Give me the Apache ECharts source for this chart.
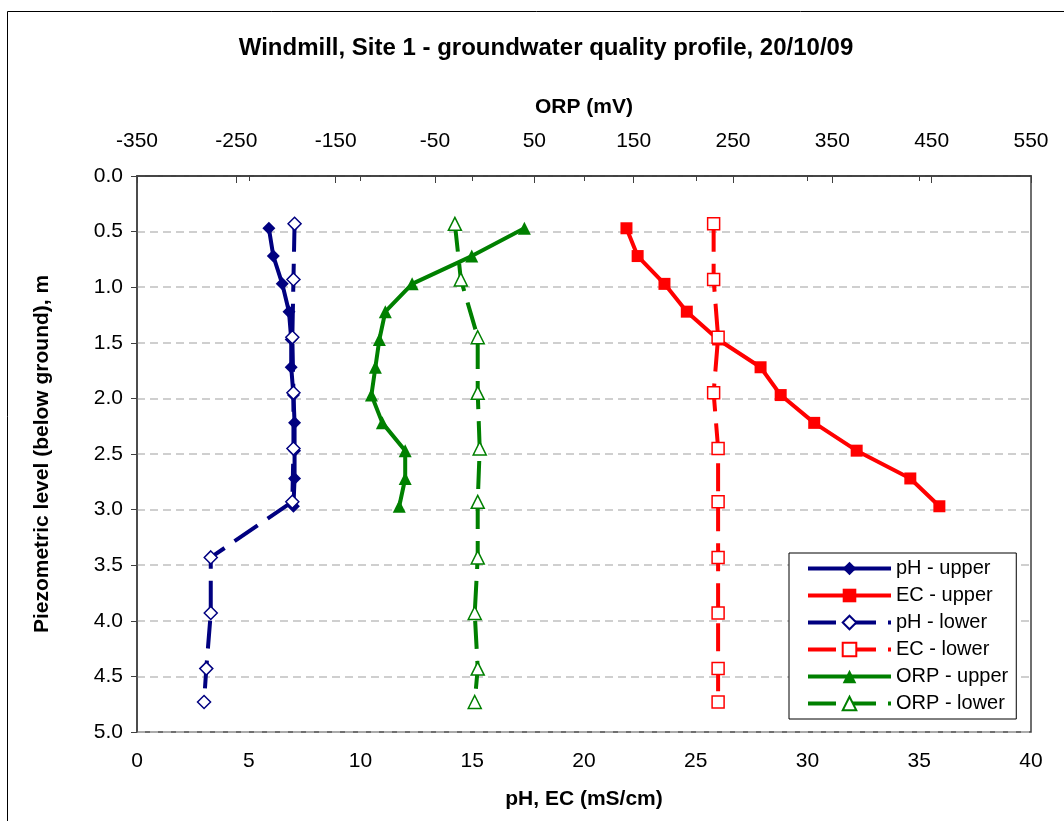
<!DOCTYPE html>
<html>
<head>
<meta charset="utf-8">
<script src="https://cdn.jsdelivr.net/npm/echarts@6/dist/echarts.min.js"></script>
<style>
  html, body { margin: 0; padding: 0; background: #fff; }
  #chart { width: 1064px; height: 821px; }
</style>
</head>
<body>
<div id="chart"></div>
<script>
// depths (m below ground) of the upper and lower profile readings
const upperDepth = [0.47, 0.72, 0.97, 1.22, 1.47, 1.72, 1.97, 2.22, 2.47, 2.72, 2.97]
const lowerDepth = [0.43, 0.93, 1.45, 1.95, 2.45, 2.93, 3.43, 3.93, 4.43, 4.73]

const phUpper = [5.9, 6.1, 6.5, 6.8, 6.9, 6.9, 7.0, 7.05, 7.05, 7.05, 7.0]
const phLower = [7.05, 7.0, 6.95, 7.0, 7.0, 6.95, 3.3, 3.3, 3.1, 3.0]
const ecUpper = [21.9, 22.4, 23.6, 24.6, 26.0, 27.9, 28.8, 30.3, 32.2, 34.6, 35.9]
const ecLower = [25.8, 25.8, 26.0, 25.8, 26.0, 26.0, 26.0, 26.0, 26.0, 26.0]
const orpUpper = [40, -13, -73, -100, -106, -110, -114, -103, -80, -80, -86]
const orpLower = [-30, -24, -7, -7, -5, -7, -7, -10, -7, -10]

const orpTicks = [-350, -250, -150, -50, 50, 150, 250, 350, 450, 550]

const FONT = 'Liberation Sans, Arial, sans-serif'
const NAVY = '#000080'
const RED = '#ff0000'
const GREEN = '#008000'

function pairs(xs, ys) {
  return xs.map((x, i) => [x, ys[i]])
}

function line(name, color, values, depths, symbol, hollow, dashed, axis) {
  return {
    name: name,
    type: 'line',
    xAxisIndex: axis,
    yAxisIndex: 0,
    data: pairs(values, depths),
    symbol: symbol,
    symbolSize: symbol === 'rect' ? 12 : 13,
    showSymbol: true,
    lineStyle: { color: color, width: 4, type: dashed ? [28, 12] : 'solid' },
    itemStyle: {
      color: hollow ? '#fff' : color,
      borderColor: color,
      borderWidth: hollow ? 1.5 : 0
    },
    emphasis: { disabled: true },
    animation: false
  }
}

const chart = echarts.init(document.getElementById('chart'))

const option = {
  backgroundColor: '#fff',
  textStyle: { fontFamily: FONT },
  title: {
    text: 'Windmill, Site 1 - groundwater quality profile, 20/10/09',
    left: 541,
    top: 31,
    textAlign: 'center',
    textStyle: { fontFamily: FONT, fontSize: 24, fontWeight: 'bold', color: '#000' }
  },
  graphic: [{
    type: 'rect',
    shape: { x: 7.5, y: 11.5, width: 1100, height: 900 },
    style: { fill: 'none', stroke: '#000', lineWidth: 1 },
    silent: true
  }],
  legend: {
    orient: 'vertical',
    left: 789,
    top: 553,
    padding: [5, 8, 5, 17],
    itemWidth: 83,
    itemHeight: 17,
    itemGap: 6,
    backgroundColor: '#fff',
    borderColor: '#000',
    borderWidth: 1,
    lineStyle: { width: 4 },
    textStyle: { fontFamily: FONT, fontSize: 20, color: '#000', lineHeight: 21 },
    data: ['pH - upper', 'EC - upper', 'pH - lower', 'EC - lower', 'ORP - upper', 'ORP - lower']
  },
  grid: {
    left: 137,
    top: 176,
    width: 894,
    height: 556,
    show: true,
    borderColor: '#404040',
    borderWidth: 1.5,
    containLabel: false
  },
  xAxis: [{
    type: 'value',
    position: 'bottom',
    min: 0,
    max: 40,
    interval: 5,
    name: 'pH, EC (mS/cm)',
    nameLocation: 'middle',
    nameGap: 57,
    nameTextStyle: { fontFamily: FONT, fontSize: 21, fontWeight: 'bold', color: '#000' },
    axisLine: { show: true, lineStyle: { color: '#404040', width: 1.5 } },
    axisTick: { show: true, inside: false, length: 5, lineStyle: { color: '#404040' } },
    axisLabel: { fontFamily: FONT, fontSize: 21, color: '#000', margin: 19 },
    splitLine: { show: false }
  }, {
    type: 'value',
    position: 'top',
    min: -350,
    max: 550,
    name: 'ORP (mV)',
    nameLocation: 'middle',
    nameGap: 58,
    nameTextStyle: { fontFamily: FONT, fontSize: 21, fontWeight: 'bold', color: '#000' },
    axisLine: { show: true, lineStyle: { color: '#404040', width: 1.5 } },
    axisTick: { show: true, inside: true, length: 7, customValues: orpTicks, lineStyle: { color: '#404040' } },
    axisLabel: { fontFamily: FONT, fontSize: 21, color: '#000', margin: 24, customValues: orpTicks },
    splitLine: { show: false }
  }],
  yAxis: {
    type: 'value',
    inverse: true,
    min: 0,
    max: 5,
    interval: 0.5,
    name: 'Piezometric level (below ground), m',
    nameLocation: 'middle',
    nameGap: 84,
    nameTextStyle: { fontFamily: FONT, fontSize: 21, fontWeight: 'bold', color: '#000' },
    axisLine: { show: true, lineStyle: { color: '#404040', width: 1.5 } },
    axisTick: { show: true, inside: false, length: 6, lineStyle: { color: '#404040' } },
    axisLabel: { fontFamily: FONT, fontSize: 21, color: '#000', margin: 14, formatter: v => v.toFixed(1) },
    splitLine: { show: true, lineStyle: { color: '#c0c0c0', width: 1.5, type: [8, 5] } }
  },
  series: [
    line('pH - upper', NAVY, phUpper, upperDepth, 'diamond', false, false, 0),
    line('EC - upper', RED, ecUpper, upperDepth, 'rect', false, false, 0),
    line('pH - lower', NAVY, phLower, lowerDepth, 'diamond', true, true, 0),
    line('EC - lower', RED, ecLower, lowerDepth, 'rect', true, true, 0),
    line('ORP - upper', GREEN, orpUpper, upperDepth, 'triangle', false, false, 1),
    line('ORP - lower', GREEN, orpLower, lowerDepth, 'triangle', true, true, 1)
  ]
}

chart.setOption(option)
</script>
</body>
</html>
